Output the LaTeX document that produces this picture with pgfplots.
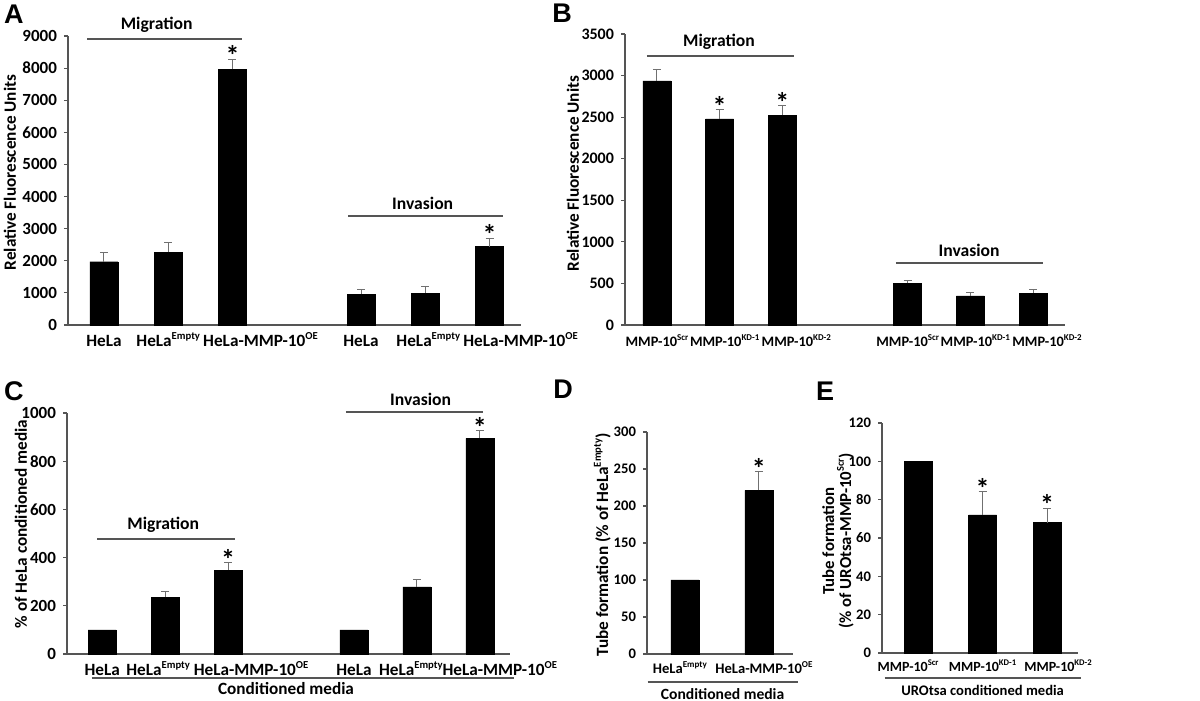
\documentclass[border=0pt]{standalone}
\usepackage{fontspec}
\setmainfont{Carlito}
\newfontfamily\letterfont{Liberation Sans}
\usepackage{graphicx}
\usepackage{pgfplots}
\pgfplotsset{compat=1.18}
\definecolor{axgray}{HTML}{555555}
\definecolor{errgray}{HTML}{707070}
\newcommand{\sups}[1]{\smash{\raisebox{0.42em}{\scalebox{0.62}{#1}}}}
\newcommand{\sh}[2]{\hspace*{#1}#2\hspace*{-#1}}
\newcommand{\fs}[1]{\fontsize{#1}{#1}\selectfont\bfseries}
\tikzset{grp/.style={draw=axgray, line width=0.75pt},
  ast/.style={font=\fs{14}, anchor=south, inner sep=0pt, yshift=-3.5pt}}
\pgfplotsset{
  panel/.style={
    scale only axis, anchor=south west,
    axis x line=bottom, axis y line=left,
    axis line style={-, draw=axgray, line width=0.75pt},
    ymin=0, clip=false,
    xtick style={draw=none},
    ytick style={draw=axgray, line width=0.6pt},
    tick align=outside, major tick length=2pt,
    /pgf/number format/assume math mode=true,
    /pgf/number format/1000 sep={},
    ybar, bar width=14pt,
    ylabel style={anchor=center, font=\fs{8.6}},
    xticklabel style={text height=1.6ex, text depth=0.3ex, yshift=2.5pt},
    error bars/y dir=plus, error bars/y explicit,
    error bars/error bar style={draw=errgray, line width=0.5pt},
    error bars/error mark options={rotate=90, mark size=2pt, draw=errgray, line width=0.5pt},
  },
  bars/.style={fill=black, draw=black, line width=0.2pt},
}
\begin{document}
\begin{tikzpicture}
\path[use as bounding box] (0,0) rectangle (600pt,350.5pt);
% panel letters
\node[font=\letterfont\bfseries\fontsize{13.5}{14}\selectfont] at (7pt,343.5pt) {A};
\node[font=\letterfont\bfseries\fontsize{13.5}{14}\selectfont] at (281pt,344pt) {B};
\node[font=\letterfont\bfseries\fontsize{13.5}{14}\selectfont] at (7pt,155pt) {C};
\node[font=\letterfont\bfseries\fontsize{13.5}{14}\selectfont] at (281.5pt,156pt) {D};
\node[font=\letterfont\bfseries\fontsize{13.5}{14}\selectfont] at (412.5pt,155pt) {E};

% ---------------- A
\begin{axis}[panel, at={(34pt,188pt)}, width=226.5pt, height=144.5pt,
  xmin=-0.56, xmax=6.49, ymax=9000, ytick distance=1000,
  yticklabel style={font=\fs{8.5}},
  xtick={0,1,2,4,5,6},
  xticklabels={HeLa, HeLa\sups{Empty}, \sh{14pt}{HeLa-MMP-10\sups{OE}}, HeLa, \sh{1.5pt}{HeLa\sups{Empty}}, \sh{15.5pt}{HeLa-MMP-10\sups{OE}}},
  xticklabel style={font=\fs{8.6}},
  ylabel={Relative Fluorescence Units},
  ylabel style={at={([xshift=-29pt,yshift=4pt]rel axis cs:0,0.5)}}]
\addplot[bars] coordinates {(0,1970) +- (0,295) (1,2265) +- (0,300) (2,7960) +- (0,315) (4,955) +- (0,135) (5,990) +- (0,205) (6,2440) +- (0,260)};
\draw[grp] (axis cs:-0.26,8906) -- (axis cs:2.15,8906);
\node[font=\fs{8.8}, anchor=south, inner sep=0pt, yshift=3pt] at (axis cs:0.82,8906) {Migration};
\draw[grp] (axis cs:3.80,3394) -- (axis cs:6.21,3394);
\node[font=\fs{8.8}, anchor=south, inner sep=0pt, yshift=3pt] at (axis cs:4.96,3394) {Invasion};
\node[ast] at (axis cs:2,8275) {*};
\node[ast] at (axis cs:6,2700) {*};
\end{axis}

% ---------------- B
\begin{axis}[panel, at={(312.5pt,188pt)}, width=220pt, height=145.5pt,
  xmin=-0.51, xmax=6.51, ymax=3500, ytick distance=500,
  yticklabel style={font=\fs{8}},
  xtick={0,1,2,4,5,6},
  xticklabels={MMP-10\sups{Scr}, \sh{2.5pt}{MMP-10\sups{KD-1}}, \sh{7pt}{MMP-10\sups{KD-2}}, MMP-10\sups{Scr}, \sh{2.5pt}{MMP-10\sups{KD-1}}, \sh{7pt}{MMP-10\sups{KD-2}}},
  xticklabel style={font=\fs{7.2}},
  ylabel={Relative Fluorescence Units},
  ylabel style={at={([xshift=-26pt,yshift=3pt]rel axis cs:0,0.5)}}]
\addplot[bars] coordinates {(0,2935) +- (0,140) (1,2480) +- (0,108) (2,2525) +- (0,110) (4,500) +- (0,40) (5,350) +- (0,44) (6,382) +- (0,43)};
\draw[grp] (axis cs:-0.16,3236) -- (axis cs:2.18,3236);
\node[font=\fs{8.8}, anchor=south, inner sep=0pt, yshift=3pt] at (axis cs:0.99,3236) {Migration};
\draw[grp] (axis cs:3.81,746) -- (axis cs:6.16,746);
\node[font=\fs{8.8}, anchor=south, inner sep=0pt, yshift=3pt] at (axis cs:4.98,746) {Invasion};
\node[ast] at (axis cs:1,2588) {*};
\node[ast] at (axis cs:2,2635) {*};
\end{axis}

% ---------------- C
\begin{axis}[panel, at={(33.5pt,23.5pt)}, width=221.5pt, height=120.5pt,
  xmin=-0.56, xmax=6.48, ymax=1000, ytick distance=200,
  yticklabel style={font=\fs{8.5}},
  xtick={0,1,2,4,5,6},
  xticklabels={HeLa, \sh{-3.5pt}{HeLa\sups{Empty}}, \sh{11.5pt}{HeLa-MMP-10\sups{OE}}, HeLa, \sh{-3pt}{HeLa\sups{Empty}}, \sh{10pt}{HeLa-MMP-10\sups{OE}}},
  xticklabel style={font=\fs{8.6}},
  ylabel={\% of HeLa conditioned media},
  ylabel style={at={([xshift=-23pt,yshift=4.75pt]rel axis cs:0,0.5)}}]
\addplot[bars] coordinates {(0,100) (1,235) +- (0,23) (2,348) +- (0,31) (4,100) (5,279) +- (0,32) (6,895) +- (0,31)};
\draw[grp] (axis cs:-0.08,477) -- (axis cs:2.11,477);
\node[font=\fs{8.8}, anchor=south, inner sep=0pt, yshift=3pt] at (axis cs:0.97,477) {Migration};
\draw[grp] (axis cs:3.87,1004) -- (axis cs:6.05,1004);
\node[font=\fs{8.8}, anchor=south, inner sep=0pt, yshift=3pt] at (axis cs:5.06,1004) {Invasion};
\node[ast] at (axis cs:2,379) {*};
\node[ast] at (axis cs:6,926) {*};
\draw[draw=axgray, line width=0.6pt] ([yshift=-12pt]axis cs:-0.17,0) -- ([yshift=-12pt]axis cs:6.54,0);
\node[font=\fs{8.6}, yshift=-17.5pt] at (axis cs:2.92,0) {Conditioned media};
\end{axis}

% ---------------- D
\begin{axis}[panel, at={(323.5pt,23.5pt)}, width=73pt, height=111pt,
  xmin=-0.51, xmax=1.46, ymax=300, ytick distance=50,
  yticklabel style={font=\fs{7.3}},
  xtick={0,1},
  xticklabels={\sh{-2.5pt}{HeLa\sups{Empty}}, \sh{2.5pt}{HeLa-MMP-10\sups{OE}}},
  xticklabel style={font=\fs{7.3}, yshift=1pt},
  ylabel={Tube formation (\% of HeLa\sups{Empty})},
  ylabel style={at={([xshift=-22pt,yshift=-1pt]rel axis cs:0,0.5)}, font=\fs{8.6}}]
\addplot[bars] coordinates {(0,100) (1,221) +- (0,25)};
\node[ast] at (axis cs:1,246) {*};
\draw[draw=axgray, line width=0.6pt] ([yshift=-14pt]axis cs:-0.5,0) -- ([yshift=-14pt]axis cs:1.53,0);
\node[font=\fs{7.8}, yshift=-20pt] at (axis cs:0.51,0) {Conditioned media};
\end{axis}

% ---------------- E
\begin{axis}[panel, at={(441pt,24pt)}, width=98pt, height=115pt,
  xmin=-0.56, xmax=2.48, ymax=120, ytick distance=20,
  yticklabel style={font=\fs{7.3}},
  xtick={0,1,2},
  xticklabels={\sh{-5pt}{MMP-10\sups{Scr}}, MMP-10\sups{KD-1}, \sh{5.5pt}{MMP-10\sups{KD-2}}},
  xticklabel style={font=\fs{7}, yshift=1.5pt},
  ylabel={Tube formation\\(\% of UROtsa-MMP-10\sups{Scr})},
  ylabel style={at={([xshift=-22pt,yshift=-1.5pt]rel axis cs:0,0.5)}, align=center, font=\fs{8.4}}]
\addplot[bars] coordinates {(0,100) (1,72) +- (0,12) (2,68) +- (0,7.5)};
\node[ast] at (axis cs:1,84) {*};
\node[ast] at (axis cs:2,75.5) {*};
\draw[draw=axgray, line width=0.6pt] ([yshift=-12.5pt]axis cs:-0.52,0) -- ([yshift=-12.5pt]axis cs:2.53,0);
\node[font=\fs{7.3}, yshift=-18.5pt] at (axis cs:1.0,0) {UROtsa conditioned media};
\end{axis}
\end{tikzpicture}
\end{document}
